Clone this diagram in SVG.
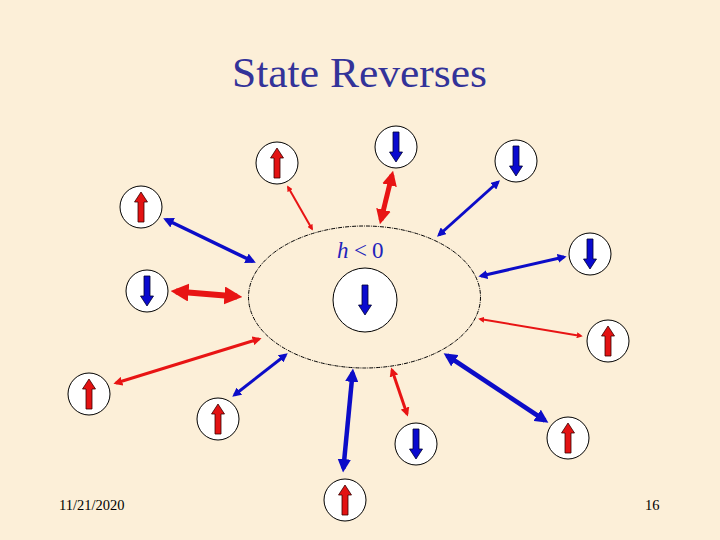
<svg xmlns="http://www.w3.org/2000/svg" width="720" height="540" viewBox="0 0 720 540">
<style>
.node circle{fill:#ffffff;stroke:#000000;stroke-width:1}
.up{fill:#e31212;stroke:#3a0000;stroke-width:0.8}
.down{fill:#0a0acf;stroke:#000030;stroke-width:0.8}
.r{stroke:#e81414;fill:none;marker-start:url(#hr);marker-end:url(#hr)}
.b{stroke:#0c0cc8;fill:none;marker-start:url(#hb);marker-end:url(#hb)}
.serif{font-family:"Liberation Serif","Times New Roman",serif}
</style>
<defs>
<path id="aup" d="M-3,15 L-3,-5 L-6.5,-5 L0,-15 L6.5,-5 L3,-5 L3,15 Z"/>
<marker id="hr" viewBox="0 0 10 10" refX="7" refY="5" markerWidth="3" markerHeight="3" orient="auto-start-reverse" markerUnits="strokeWidth"><path d="M0,0 L10,5 L0,10 Z" fill="#e81414"/></marker>
<marker id="hb" viewBox="0 0 10 10" refX="7" refY="5" markerWidth="3" markerHeight="3" orient="auto-start-reverse" markerUnits="strokeWidth"><path d="M0,0 L10,5 L0,10 Z" fill="#0c0cc8"/></marker>
</defs>
<rect width="720" height="540" fill="#fcefd8"/>
<text class="serif" x="232" y="87" font-size="42" fill="#333399" textLength="255" lengthAdjust="spacingAndGlyphs">State Reverses</text>

<g id="region">
<ellipse cx="364.5" cy="297" rx="116" ry="71" fill="none" stroke="#000" stroke-width="1" stroke-dasharray="4 1 1 1"/>
<text class="serif" x="337" y="258" font-size="23" fill="#2222bb"><tspan font-style="italic">h</tspan><tspan x="354">&lt;</tspan><tspan x="372">0</tspan></text>
</g>

<g id="connectors">
<line class="r" stroke-width="2" x1="288" y1="187" x2="312" y2="229"/>
<line class="b" stroke-width="3.5" x1="166" y1="219.5" x2="253" y2="261.5"/>
<line class="r" stroke-width="6" x1="176" y1="291.5" x2="237" y2="296.5"/>
<line class="r" stroke-width="5" x1="392" y1="175" x2="381" y2="220"/>
<line class="b" stroke-width="3" x1="498" y1="182" x2="439" y2="235"/>
<line class="b" stroke-width="3" x1="564" y1="257" x2="481" y2="276"/>
<line class="r" stroke-width="2" x1="480" y1="319" x2="581" y2="336"/>
<line class="b" stroke-width="4.5" x1="447" y1="355.5" x2="545" y2="420.5"/>
<line class="r" stroke-width="3" x1="392" y1="370" x2="407" y2="414"/>
<line class="b" stroke-width="4.5" x1="352.6" y1="372.5" x2="343.4" y2="468.5"/>
<line class="b" stroke-width="3" x1="285.6" y1="355" x2="234.4" y2="395"/>
<line class="r" stroke-width="3" x1="259" y1="339" x2="116" y2="383"/>
</g>

<g id="center" class="node" transform="translate(365,300)"><circle r="32"/><use href="#aup" class="down" transform="rotate(180)"/></g>
<g id="n1" class="node" transform="translate(277,163)"><circle r="21"/><use href="#aup" class="up"/></g>
<g id="n2" class="node" transform="translate(141,207)"><circle r="21"/><use href="#aup" class="up"/></g>
<g id="n3" class="node" transform="translate(147,291)"><circle r="21"/><use href="#aup" class="down" transform="rotate(180)"/></g>
<g id="n4" class="node" transform="translate(396,147)"><circle r="21"/><use href="#aup" class="down" transform="rotate(180)"/></g>
<g id="n5" class="node" transform="translate(516,161)"><circle r="21"/><use href="#aup" class="down" transform="rotate(180)"/></g>
<g id="n6" class="node" transform="translate(590,254)"><circle r="21"/><use href="#aup" class="down" transform="rotate(180)"/></g>
<g id="n7" class="node" transform="translate(608,341)"><circle r="21"/><use href="#aup" class="up"/></g>
<g id="n8" class="node" transform="translate(568,438)"><circle r="21"/><use href="#aup" class="up"/></g>
<g id="n9" class="node" transform="translate(416,444)"><circle r="21"/><use href="#aup" class="down" transform="rotate(180)"/></g>
<g id="n10" class="node" transform="translate(345,500)"><circle r="21"/><use href="#aup" class="up"/></g>
<g id="n11" class="node" transform="translate(218,419)"><circle r="21"/><use href="#aup" class="up"/></g>
<g id="n12" class="node" transform="translate(89,394)"><circle r="21"/><use href="#aup" class="up"/></g>

<text class="serif" x="59" y="510" font-size="14.5" fill="#000">11/21/2020</text>
<text class="serif" x="645" y="510" font-size="14.5" fill="#000">16</text>
</svg>
